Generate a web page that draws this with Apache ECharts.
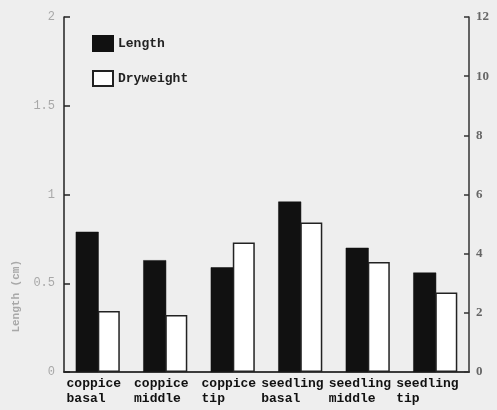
<!DOCTYPE html>
<html>
<head>
<meta charset="utf-8">
<script src="https://cdn.jsdelivr.net/npm/echarts@6/dist/echarts.min.js"></script>
<style>
  html, body { margin: 0; padding: 0; background: #eeeeee; }
  #chart { width: 497px; height: 410px; }
</style>
</head>
<body>
<div id="chart"></div>
<script>
// categories (trailing spaces keep the two lines left-aligned in monospace)
const categories = [
  'coppice \nbasal   ',
  'coppice \nmiddle  ',
  'coppice \ntip     ',
  'seedling  \nbasal     ',
  'seedling  \nmiddle    ',
  'seedling  \ntip       '
];
// length in cm (left axis)
const lengthValues = [0.79, 0.63, 0.59, 0.96, 0.70, 0.56];
// dry weight (right axis)
const dryweightValues = [2.06, 1.93, 4.38, 5.05, 3.72, 2.69];

const mono = 'Liberation Mono';

const chart = echarts.init(document.getElementById('chart'));
const option = {
  backgroundColor: '#eeeeee',
  animation: false,
  grid: { left: 64, right: 28, top: 17, bottom: 38 },
  legend: {
    orient: 'vertical',
    left: 87,
    top: 30,
    itemWidth: 20,
    itemHeight: 15,
    itemGap: 18,
    icon: 'rect',
    textStyle: { fontFamily: mono, fontWeight: 'bold', fontSize: 13, color: '#222' },
    data: ['Length', 'Dryweight']
  },
  xAxis: [{
    type: 'category',
    data: categories,
    axisLine: { lineStyle: { color: '#222', width: 1.5 } },
    axisTick: { show: false },
    axisLabel: {
      fontFamily: mono, fontWeight: 'bold', fontSize: 13, color: '#111',
      lineHeight: 15, margin: 4, interval: 0
    }
  }, {
    type: 'category',
    position: 'top',
    data: categories,
    axisLine: { lineStyle: { color: '#333', width: 1.5 } },
    axisTick: { show: false },
    axisLabel: { show: false }
  }],
  yAxis: [{
    type: 'value',
    min: 0, max: 2, interval: 0.5,
    splitLine: { show: false },
    axisLine: { show: true, lineStyle: { color: '#222', width: 1.5 } },
    axisTick: { show: true, inside: true, length: 6, lineStyle: { color: '#222', width: 1.5 } },
    axisLabel: { fontFamily: mono, fontSize: 12, color: '#a8a8a8', margin: 9 }
  }, {
    type: 'value',
    position: 'right',
    min: 0, max: 12, interval: 2,
    splitLine: { show: false },
    axisLine: { show: true, lineStyle: { color: '#333', width: 1.5 } },
    axisTick: { show: true, inside: true, length: 5, lineStyle: { color: '#333', width: 1.5 } },
    axisLabel: { fontFamily: 'Liberation Serif', fontSize: 13, fontWeight: 'bold', color: '#666', margin: 7 }
  }],
  graphic: [{
    type: 'text',
    left: 11,
    top: 260,
    rotation: Math.PI / 2,
    style: {
      text: 'Length (cm)',
      fontFamily: mono,
      fontSize: 11,
      fontWeight: 'bold',
      fill: '#a8a8a8'
    }
  }],
  series: [{
    name: 'Length',
    type: 'bar',
    yAxisIndex: 0,
    data: lengthValues,
    barWidth: 23,
    barGap: '-4%',
    itemStyle: { color: '#111', borderColor: '#111', borderWidth: 0.5 }
  }, {
    name: 'Dryweight',
    type: 'bar',
    yAxisIndex: 1,
    data: dryweightValues,
    barWidth: 22,
    itemStyle: { color: '#ffffff', borderColor: '#222', borderWidth: 1.5 }
  }]
};
chart.setOption(option);
</script>
</body>
</html>
